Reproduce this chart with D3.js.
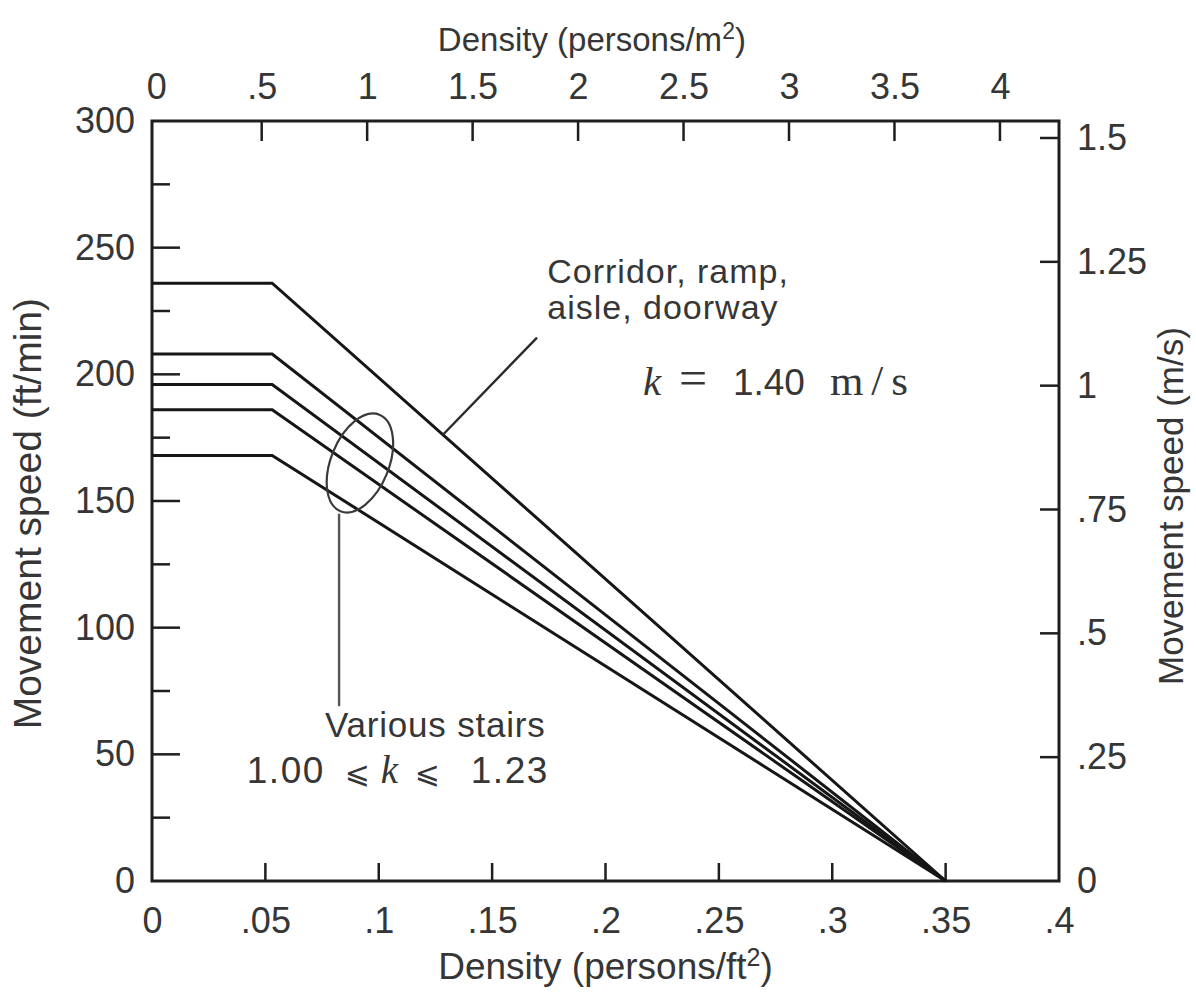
<!DOCTYPE html>
<html>
<head>
<meta charset="utf-8">
<script src="https://cdn.jsdelivr.net/npm/d3@7"></script>
<style>
  html, body { margin: 0; padding: 0; background: #fff; }
  svg text { font-family: "Liberation Sans", Arial, sans-serif; fill: #363636; }
</style>
</head>
<body>
<svg id="chart" width="1196" height="996"></svg>
<script>
// ---- data ----
const seriesNames = ["Corridor, ramp, aisle, doorway", "Stairs k=1.23", "Stairs k=1.16", "Stairs k=1.10", "Stairs k=1.00"];
const maxSpeeds = [236, 208, 196, 186, 168];          // ft/min, flat part
const breakDensity = [0.053, 0.053, 0.053, 0.053, 0.053]; // persons/ft2 where speed starts dropping
const jamDensity = [0.35, 0.35, 0.35, 0.35, 0.35];       // persons/ft2 where speed reaches 0

const bottomTicks = [0, 0.05, 0.1, 0.15, 0.2, 0.25, 0.3, 0.35, 0.4];
const bottomTickLabels = ["0", ".05", ".1", ".15", ".2", ".25", ".3", ".35", ".4"];
const topTicks = [0, 0.5, 1, 1.5, 2, 2.5, 3, 3.5, 4];
const topTickLabels = ["0", ".5", "1", "1.5", "2", "2.5", "3", "3.5", "4"];
const leftTicks = [0, 50, 100, 150, 200, 250, 300];
const leftMinorTicks = [25, 75, 125, 175, 225, 275];
const rightTicks = [0, 0.25, 0.5, 0.75, 1, 1.25, 1.5];
const rightTickLabels = ["0", ".25", ".5", ".75", "1", "1.25", "1.5"];

// ---- layout ----
const margin = { left: 152, top: 121 };
const W = 907, H = 760;
const svg = d3.select("#chart");
const g = svg.append("g").attr("transform", `translate(${margin.left},${margin.top})`);

const x = d3.scaleLinear().domain([0, 0.4]).range([0, W]);
const xTop = d3.scaleLinear().domain([-0.02, 4.28]).range([0, W]);
const y = d3.scaleLinear().domain([0, 300]).range([H, 0]);
const yR = d3.scaleLinear().domain([0, 1.5]).range([H, 17]);

const axisColor = "#1e1e1e";
const tickFont = 36;
const textColor = "#363636";

// frame
g.append("rect").attr("x", 0).attr("y", 0).attr("width", W).attr("height", H)
  .attr("fill", "none").attr("stroke", axisColor).attr("stroke-width", 3);

// bottom axis
const bottomAxis = d3.axisBottom(x).tickValues(bottomTicks)
  .tickFormat((d, i) => bottomTickLabels[i]).tickSize(0).tickPadding(26);
const gb = g.append("g").attr("transform", `translate(0,${H})`).call(bottomAxis);
gb.select(".domain").remove();
gb.selectAll("text").attr("font-size", tickFont).attr("dy", "0.71em").attr("fill", textColor);
g.append("g").selectAll("line").data(bottomTicks.filter(d => d > 0 && d < 0.4)).join("line")
  .attr("x1", d => x(d)).attr("x2", d => x(d)).attr("y1", H).attr("y2", H - 18)
  .attr("stroke", axisColor).attr("stroke-width", 2.5);

// top axis
const topAxis = d3.axisTop(xTop).tickValues(topTicks)
  .tickFormat((d, i) => topTickLabels[i]).tickSize(0).tickPadding(22);
const gt = g.append("g").call(topAxis);
gt.select(".domain").remove();
gt.selectAll("text").attr("font-size", tickFont).attr("fill", textColor).attr("dy", "0");
g.append("g").selectAll("line").data(topTicks.filter(d => d > 0)).join("line")
  .attr("x1", d => xTop(d)).attr("x2", d => xTop(d)).attr("y1", 0).attr("y2", 20)
  .attr("stroke", axisColor).attr("stroke-width", 2.5);

// left axis
const leftAxis = d3.axisLeft(y).tickValues(leftTicks).tickSize(0).tickPadding(17).tickFormat(d3.format("d"));
const gl = g.append("g").call(leftAxis);
gl.select(".domain").remove();
gl.selectAll("text").attr("font-size", tickFont).attr("fill", textColor);
g.append("g").selectAll("line").data(leftTicks.filter(d => d > 0 && d < 300)).join("line")
  .attr("x1", 0).attr("x2", 28).attr("y1", d => y(d)).attr("y2", d => y(d))
  .attr("stroke", axisColor).attr("stroke-width", 2.5);
g.append("g").selectAll("line").data(leftMinorTicks).join("line")
  .attr("x1", 0).attr("x2", 18).attr("y1", d => y(d)).attr("y2", d => y(d))
  .attr("stroke", axisColor).attr("stroke-width", 2.5);

// right axis
const rightAxis = d3.axisRight(yR).tickValues(rightTicks)
  .tickFormat((d, i) => rightTickLabels[i]).tickSize(0).tickPadding(18);
const gr = g.append("g").attr("transform", `translate(${W},0)`).call(rightAxis);
gr.select(".domain").remove();
gr.selectAll("text").attr("font-size", tickFont).attr("fill", textColor);
g.append("g").selectAll("line").data(rightTicks.filter(d => d > 0)).join("line")
  .attr("x1", W).attr("x2", W - 19).attr("y1", d => yR(d)).attr("y2", d => yR(d))
  .attr("stroke", axisColor).attr("stroke-width", 2.5);

// axis titles
const tb = g.append("text").attr("x", x(0.2)).attr("y", H + 98).attr("text-anchor", "middle")
  .attr("font-size", 37).text("Density (persons/ft");
tb.append("tspan").attr("font-size", 25).attr("dy", -13).text("2");
tb.append("tspan").attr("dy", 13).text(")");

const tt = g.append("text").attr("x", x(0.194)).attr("y", -70).attr("text-anchor", "middle")
  .attr("font-size", 33).text("Density (persons/m");
tt.append("tspan").attr("font-size", 23).attr("dy", -12).text("2");
tt.append("tspan").attr("dy", 12).text(")");

g.append("text").attr("transform", `translate(${-111},${y(145)}) rotate(-90)`)
  .attr("text-anchor", "middle").attr("font-size", 39).text("Movement speed (ft/min)");
g.append("text").attr("transform", `translate(${W + 124},${y(148)}) rotate(-90)`)
  .attr("text-anchor", "middle").attr("font-size", 35).text("Movement speed (m/s)");

// ---- curves ----
const series = maxSpeeds.map((v, i) => ({
  name: seriesNames[i],
  points: [[0, v], [breakDensity[i], v], [jamDensity[i], 0]]
}));
const line = d3.line().x(d => x(d[0])).y(d => y(d[1]));
g.append("g").selectAll("path").data(series).join("path")
  .attr("d", d => line(d.points)).attr("fill", "none")
  .attr("stroke", "#161616").attr("stroke-width", 3).attr("stroke-linejoin", "miter");

// ---- annotations ----
// corridor leader: from the top curve to the label
const leadStartD = 0.1283;
const s0 = series[0].points;
const leadStartV = s0[1][1] * (1 - (leadStartD - s0[1][0]) / (s0[2][0] - s0[1][0]));
g.append("line").attr("x1", x(leadStartD)).attr("y1", y(leadStartV))
  .attr("x2", x(0.1698)).attr("y2", y(214.5))
  .attr("stroke", "#2a2a2a").attr("stroke-width", 2.4);

g.append("text").attr("x", x(0.1743)).attr("y", y(236)).attr("font-size", 34)
  .attr("letter-spacing", 1).text("Corridor, ramp,");
g.append("text").attr("x", x(0.1743)).attr("y", y(222)).attr("font-size", 34)
  .attr("letter-spacing", 1).text("aisle, doorway");

const kx = x(0.2165), ky = y(192);
const kt = g.append("text").attr("y", ky);
kt.append("tspan").attr("x", kx).style("font-family", "Liberation Serif, serif")
  .attr("font-style", "italic").attr("font-size", 41).text("k");
kt.append("tspan").attr("x", kx + 36).style("font-family", "Liberation Serif, serif")
  .attr("font-size", 50).text("=");
kt.append("tspan").attr("x", kx + 90).attr("font-size", 37).text("1.40");
kt.append("tspan").attr("x", kx + 187).style("font-family", "Liberation Serif, serif")
  .attr("font-size", 43).attr("letter-spacing", 8).text("m/s");

// stairs loop
const cx = x(0.0917), cy = y(165);
g.append("ellipse").attr("cx", cx).attr("cy", cy).attr("rx", 29).attr("ry", 52)
  .attr("transform", `rotate(22,${cx},${cy})`)
  .attr("fill", "none").attr("stroke", "#3a3a3a").attr("stroke-width", 2.2);
g.append("line").attr("x1", x(0.0825)).attr("x2", x(0.0825)).attr("y1", y(145)).attr("y2", y(69))
  .attr("stroke", "#555").attr("stroke-width", 2.4);

g.append("text").attr("x", x(0.0763)).attr("y", y(57)).attr("font-size", 35)
  .attr("letter-spacing", 0.8).text("Various stairs");
const sx = x(0.0418), sy = y(38.5);
const st = g.append("text").attr("y", sy).attr("font-size", 37);
st.append("tspan").attr("x", sx).attr("letter-spacing", 1.5).text("1.00");
st.append("tspan").attr("x", sx + 98).style("font-family", "DejaVu Sans, sans-serif").attr("font-size", 30).text("⩽");
st.append("tspan").attr("x", sx + 134).style("font-family", "Liberation Serif, serif")
  .attr("font-style", "italic").attr("font-size", 39).text("k");
st.append("tspan").attr("x", sx + 168).style("font-family", "DejaVu Sans, sans-serif").attr("font-size", 30).text("⩽");
st.append("tspan").attr("x", sx + 224).attr("letter-spacing", 1.5).text("1.23");
</script>
</body>
</html>
